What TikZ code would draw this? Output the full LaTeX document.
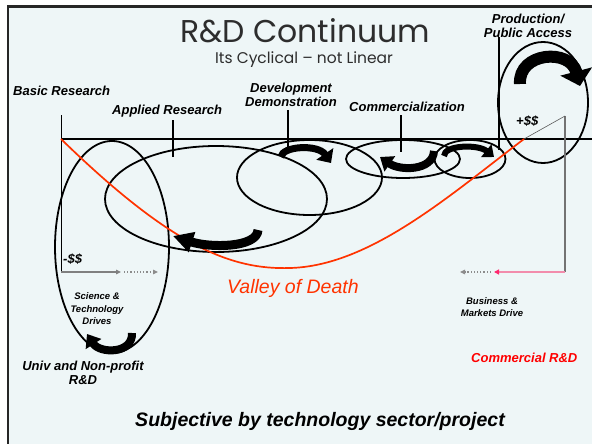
\documentclass[tikz,border=0pt]{standalone}
\usepackage{fontspec}
\setmainfont{Liberation Sans}
\newfontfamily\titlefont{Poppins}
\usetikzlibrary{arrows.meta}
\definecolor{bgc}{RGB}{238,246,247}
\definecolor{valley}{RGB}{255,51,0}
\definecolor{comred}{RGB}{255,0,0}
\definecolor{pinkl}{RGB}{242,140,172}
\definecolor{pinkh}{RGB}{255,40,110}
\definecolor{titlegray}{RGB}{45,45,45}
\begin{document}
\begin{tikzpicture}[x=1pt,y=-1pt,
  lbl/.style={font=\bfseries\itshape\fontsize{13}{14}\selectfont, inner sep=0pt, align=center},
  smalllbl/.style={font=\bfseries\itshape\fontsize{9.5}{12.5}\selectfont, inner sep=0pt, align=center},
  ell/.style={draw=black, line width=1.8pt},
  tickline/.style={draw=black, line width=2pt},
  blk/.style={draw=black, line width=#1, line cap=butt},
  smallhead/.style={-{Triangle[width=4.5pt,length=5pt]}},
  ]
\useasboundingbox (0,0) rectangle (592,444);
\clip (0,0) rectangle (592,444);
\fill[white] (0,0) rectangle (592,444);
% frame
\fill[bgc] (7,6) rectangle (600,450);
\draw[line width=2.6pt, black!85] (7.8,6.5) rectangle (600,452);

% coordinates
\coordinate (ax0) at (61,139);
\coordinate (ax1) at (592,139);
\coordinate (lv0) at (61,115);
\coordinate (lv1) at (61,272);
\coordinate (rv0) at (565,116);
\coordinate (rv1) at (565,272);
\coordinate (vm) at (290,268);
\coordinate (re) at (524,139);

% ellipses
\coordinate (e1) at (112,247);
\coordinate (e2) at (216,199);
\coordinate (e3) at (309.5,177.5);
\coordinate (e4) at (403,159);
\coordinate (e5) at (470,159);
\coordinate (e6) at (543,102.5);
\draw[ell] (e1) ellipse [x radius=57pt, y radius=106pt];
\draw[ell] (e2) ellipse [x radius=111pt, y radius=53pt];
\draw[ell] (e3) ellipse [x radius=72.5pt, y radius=37.5pt];
\draw[ell] (e4) ellipse [x radius=57pt, y radius=19pt];
\draw[ell] (e5) ellipse [x radius=35.5pt, y radius=19pt];
\draw[ell] (e6) ellipse [x radius=45pt, y radius=60.5pt];

% axes
\draw[black, line width=1.3pt] (ax0) -- (ax1);
\draw[black, line width=1pt] (lv0) -- (lv1);
\draw[black!55, line width=1.3pt] (rv0) -- (rv1);
\draw[black!65, line width=0.6pt] (rv0) -- (re);

% ticks
\coordinate (t1a) at (173,120); \coordinate (t1b) at (173,157);
\coordinate (t2a) at (288,110); \coordinate (t2b) at (288,150);
\coordinate (t3a) at (401,115); \coordinate (t3b) at (401,152);
\coordinate (t4a) at (499,37);  \coordinate (t4b) at (499,150);
\draw[tickline] (t1a) -- (t1b);
\draw[tickline] (t2a) -- (t2b);
\draw[tickline] (t3a) -- (t3b);
\draw[black, line width=1.5pt] (t4a) -- (t4b);

% valley curve
\draw[valley, line width=1.7pt] (ax0) .. controls (170,245) and (230,270) .. (vm)
  .. controls (370,266) and (450,195) .. (re);

% block arrows
\coordinate (pa0) at (520,84); \coordinate (pa1) at (580,86);
\draw[blk=12pt, -{Triangle[width=32pt,length=15pt]}] (pa0) .. controls (518,52) and (570,48) .. (pa1);
\coordinate (da0) at (281,157); \coordinate (da1) at (331,163);
\draw[blk=7pt, -{Triangle[width=20pt,length=11pt]}] (da0) .. controls (282,146) and (318,144) .. (da1);
\coordinate (ca0) at (434,151); \coordinate (ca1) at (380,157);
\draw[blk=8pt, -{Triangle[width=18pt,length=12pt]}] (ca0) .. controls (433,171) and (400,171) .. (ca1);
\coordinate (sa0) at (444,156); \coordinate (sa1) at (494,157);
\draw[blk=6pt, -{Triangle[width=16pt,length=10pt]}] (sa0) .. controls (444,145) and (478,144) .. (sa1);
\coordinate (aa0) at (258,230); \coordinate (aa1) at (173,236);
\draw[blk=9pt, -{Triangle[width=20pt,length=20pt]}] (aa0) .. controls (257,248) and (210,248) .. (aa1);
\coordinate (ua0) at (132,333); \coordinate (ua1) at (87,334);
\draw[blk=8pt, -{Triangle[width=18pt,length=12pt]}] (ua0) .. controls (133,354) and (100,354) .. (ua1);

% small arrows
\coordinate (g1) at (121,272); \coordinate (g2) at (124,272); \coordinate (g3) at (158,272);
\draw[black!50, line width=1.2pt, smallhead] (lv1) -- (g1);
\draw[black!45, line width=1.2pt, dotted, smallhead] (g2) -- (g3);
\coordinate (p1) at (494,272); \coordinate (p2) at (491,272); \coordinate (p3) at (460,272);
\draw[pinkl, line width=1.5pt, -{Triangle[width=5pt,length=5pt,color=pinkh]}] (rv1) -- (p1);
\draw[black!45, line width=1.2pt, dotted, smallhead] (p2) -- (p3);

% texts
\node[font=\titlefont\fontsize{31.5}{32}\selectfont, text=titlegray, inner sep=0pt, anchor=base, text depth=0pt, text height=22pt] (title) at (305,43) {R\&D Continuum};
\node[font=\titlefont\fontsize{15.5}{16}\selectfont, text=titlegray, inner sep=0pt, anchor=base, text height=11pt, text depth=3pt] (sub) at (304,64) {Its Cyclical – not Linear};
\node[lbl, anchor=west] (basic) at (13,91) {Basic Research};
\node[lbl, anchor=west] (applied) at (112,111) {Applied Research};
\node[lbl] (dev) at (291,95) {Development\\Demonstration};
\node[lbl, anchor=west] (comm) at (349,107) {Commercialization};
\node[lbl] (prod) at (528,26) {Production/\\Public Access};
\node[lbl, anchor=west] (plus) at (516,121) {+\$\$};
\node[lbl, anchor=west] (minus) at (63,259) {-\$\$};
\node[smalllbl] (sci) at (97,309) {Science \&\\Technology\\Drives};
\node[lbl] (univ) at (83,373) {Univ and Non-profit\\R\&D};
\node[font=\itshape\fontsize{19.5}{20}\selectfont, text=valley, inner sep=0pt, anchor=west] (vod) at (227,288) {Valley of Death};
\node[smalllbl] (bus) at (492,307) {Business \&\\Markets Drive};
\node[lbl, text=comred, anchor=west] (crd) at (471,358) {Commercial R\&D};
\node[font=\bfseries\itshape\fontsize{19.5}{20}\selectfont, inner sep=0pt] (subj) at (320,421) {Subjective by technology sector/project};
\end{tikzpicture}
\end{document}
